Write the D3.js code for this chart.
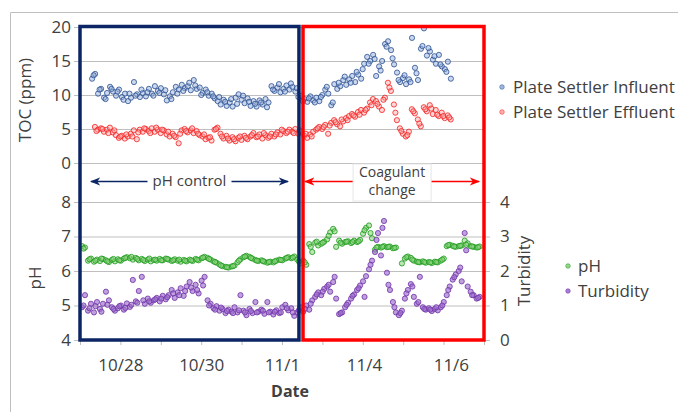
<!DOCTYPE html>
<html>
<head>
<meta charset="utf-8">
<script src="https://cdn.jsdelivr.net/npm/d3@7"></script>
<style>
  body { margin: 0; background: #fff; }
  text { font-family: "Open Sans", sans-serif; fill: #404040; }
</style>
</head>
<body>
<svg id="canvas" width="678" height="412"></svg>
<script>
// sample times are in "day ticks" along the date axis (0..10)
const sampleStep = 0.074;
const tocStart = 0.30;
const effStart = 0.37;
const phStart = 0.05;
// second, sparser set of readings sitting between the main ones
const extraStep = 0.148;
const extraOffset = 0.037;

const influent = [12.4,13.1,10.2,10.9,9.6,10.3,11.2,10.5,9.9,10.8,
  9.7,10.2,9.1,9.6,11.9,10.1,9.7,10.3,9.8,10.9,
  10.2,11.3,10.6,11.0,10.1,9.2,9.8,10.4,11.2,10.8,
  11.5,11.0,11.3,10.7,12.2,10.9,11.1,10.3,10.8,9.9,
  10.2,9.5,9.1,8.6,9.3,8.4,8.9,8.3,9.6,10.1,
  9.3,8.8,9.5,8.4,9.1,8.3,9.2,8.6,9.4,8.9,
  11.3,10.6,11.1,10.4,10.9,11.4,10.8,11.2,10.5,9.7,
  9.9,9.4,9.0,9.8,9.2,9.6,9.1,10.0,10.8,10.2,
  8.5,11.6,10.9,11.3,12.2,11.5,12.3,12.8,11.9,13.0,
  12.4,14.6,15.6,15.0,15.9,12.8,14.2,15.0,17.5,17.9,
  16.6,14.5,13.3,11.9,12.5,11.6,12.3,18.4,14.0,12.2,
  16.8,19.8,15.8,16.4,15.2,14.6,15.9,14.2,13.8,14.9,
  12.4];
const influentExtra = [12.9,10.8,9.4,10.9,10.5,9.3,10.2,9.9,10.8,10.4,
  9.9,10.3,10.7,9.4,10.2,10.6,11.8,11.4,10.0,10.4,
  9.8,9.7,9.0,9.4,8.7,9.9,9.0,8.7,8.9,8.2,
  10.8,11.6,10.5,11.7,11.0,9.1,9.5,8.9,9.7,11.2,
  8.9,11.8,12.7,11.8,13.4,13.8,14.6,15.3,13.6,17.1,
  15.4,12.2,12.9,11.9,13.2,17.2,16.9,15.7,14.5,13.4];

const effluent = [5.3,4.9,5.1,4.6,4.9,5.2,4.5,4.1,3.7,4.0,
  3.6,3.9,4.3,4.8,3.5,4.9,4.6,5.0,4.7,5.1,
  4.6,4.9,4.4,4.8,4.2,3.9,4.3,3.8,2.9,4.8,
  5.0,4.5,4.8,4.4,4.7,4.1,3.9,3.5,3.7,3.3,
  4.9,5.2,4.3,3.6,4.0,3.3,3.8,3.2,3.7,3.4,
  4.0,3.5,3.9,4.4,3.8,4.2,3.6,4.1,3.7,4.3,
  3.9,4.5,4.2,4.7,4.4,4.9,4.6,5.0,4.3,4.6,
  4.0,3.7,4.2,4.6,4.9,5.3,5.0,5.6,4.3,5.9,
  6.3,5.7,5.4,6.1,6.6,6.9,7.2,6.8,7.5,7.8,
  7.4,8.0,8.9,9.4,9.1,8.3,7.8,9.6,11.8,10.6,
  8.6,6.3,5.1,4.3,3.9,4.6,7.9,7.3,6.4,5.4,
  8.2,7.6,8.5,7.2,7.8,6.9,7.4,6.6,7.0,6.4];
const effluentExtra = [4.7,5.0,4.4,4.8,3.9,4.2,3.9,4.5,5.1,4.4,
  5.2,4.9,4.6,4.0,4.3,4.7,5.1,4.3,4.2,3.8,
  5.0,3.9,3.6,3.5,3.9,3.7,4.1,3.9,4.4,3.9,
  4.2,4.9,4.6,4.4,4.8,4.3,3.9,5.1,5.3,5.5,
  6.0,6.4,6.3,7.0,7.1,7.8,8.5,8.7,9.3,11.1,
  7.4,4.7,4.1,7.6,5.8,7.9,8.0,7.1,6.9,6.7];

const phValues = [6.72,6.68,6.30,6.36,6.27,6.33,6.29,6.35,6.31,6.26,
  6.32,6.28,6.34,6.30,6.36,6.40,6.37,6.33,6.38,6.31,
  6.35,6.29,6.33,6.28,6.32,6.30,6.35,6.31,6.36,6.33,
  6.29,6.34,6.30,6.27,6.32,6.28,6.33,6.29,6.35,6.31,
  6.37,6.41,6.38,6.33,6.28,6.24,6.19,6.14,6.12,6.10,
  6.13,6.16,6.25,6.34,6.40,6.44,6.41,6.36,6.32,6.29,
  6.31,6.27,6.24,6.27,6.25,6.30,6.33,6.31,6.36,6.40,
  6.37,6.42,6.33,6.22,6.30,6.18,6.78,6.55,6.82,6.74,
  6.79,6.85,6.92,7.12,7.22,6.70,6.88,6.79,6.84,6.86,
  6.81,6.88,6.84,6.90,7.08,7.25,7.32,6.95,6.62,6.70,
  6.68,6.72,6.69,6.71,6.66,6.68,null,6.22,6.36,6.42,
  6.38,6.30,6.27,6.25,6.28,6.24,6.26,6.23,6.27,6.25,
  6.30,6.36,6.72,6.76,6.73,6.70,6.72,6.74,6.88,6.80,
  6.72,6.70,6.68,6.71];
const phExtra = [6.65,6.34,6.30,6.36,6.28,6.35,6.31,6.38,6.41,6.35,
  6.32,6.36,6.33,6.31,6.35,6.31,6.33,6.30,6.31,6.33,
  6.39,6.35,6.26,6.16,6.11,6.14,6.30,6.42,6.38,6.30,
  6.29,6.26,6.28,6.32,6.38,6.39,6.28,6.25,6.70,6.85,
  6.82,7.02,7.15,6.82,6.85,6.84,6.86,7.18,7.10,6.68,
  6.70,6.70,6.67,null,6.40,6.33,6.26,6.26,6.25,6.26,
  6.33,6.75,6.71,6.73,6.76,6.71,6.69];

const turbidity = [0.95,1.30,0.85,1.05,0.80,1.10,0.90,1.05,1.40,1.15,
  0.95,0.85,0.92,1.00,0.88,1.06,0.96,1.74,1.12,1.42,
  1.83,1.05,1.20,1.08,1.15,1.22,1.12,1.28,1.18,1.30,
  1.45,1.22,1.38,1.50,1.28,1.55,1.68,1.42,1.60,1.35,
  1.72,1.83,1.15,1.05,0.92,0.98,0.85,0.90,0.78,0.88,
  0.82,0.95,0.80,1.30,0.85,0.72,0.90,0.78,1.10,0.82,
  0.88,0.76,1.10,0.82,0.74,0.86,0.78,0.95,1.02,0.86,
  0.92,0.70,0.80,0.95,0.82,1.00,0.88,1.15,1.25,1.38,
  1.30,1.48,1.55,1.40,1.68,1.20,0.75,0.80,0.95,1.08,
  1.20,1.32,1.45,1.58,1.70,1.85,2.05,2.30,2.55,3.10,
  2.45,3.45,1.95,1.45,1.10,0.80,0.72,0.85,1.20,1.45,
  1.62,1.25,1.05,1.83,0.95,0.88,0.92,0.84,0.90,0.86,
  0.95,1.10,1.30,1.55,1.75,1.90,2.00,1.70,3.10,1.55,
  1.40,1.30,1.20,1.25];
const turbidityExtra = [1.00,0.92,0.98,0.82,1.02,0.90,0.98,0.93,1.02,1.08,
  1.15,1.12,1.18,1.20,1.24,1.35,1.30,1.42,1.52,1.45,
  1.58,1.00,0.88,0.94,0.84,0.78,0.86,0.80,0.84,0.80,
  0.85,0.80,0.82,0.80,0.92,0.80,0.86,0.90,1.05,1.32,
  1.40,1.60,1.83,0.78,1.02,1.28,1.50,1.25,2.18,2.90,
  3.25,1.60,0.95,0.78,1.35,1.55,1.10,0.90,0.88,0.95,
  1.00,1.45,1.82,2.10,2.60,1.30,1.22];

const tocTicks = [0, 5, 10, 15, 20];
const phTicks = [4, 5, 6, 7, 8];
const turbTicks = [0, 1, 2, 3, 4];
const dateLabels = ['10/28', '10/30', '11/1', '11/4', '11/6'];
const dateLabelPos = [1, 3, 5, 7.03, 9.18];

const seriesTop = [
  { name: 'Plate Settler Influent', values: influent, extra: influentExtra, start: tocStart, stroke: '#2c5191', fill: 'rgba(150,175,222,0.5)' },
  { name: 'Plate Settler Effluent', values: effluent, extra: effluentExtra, start: effStart, stroke: '#f52020', fill: 'rgba(255,165,165,0.45)' }
];
const seriesBottom = [
  { name: 'pH', values: phValues, extra: phExtra, start: phStart, stroke: '#1c9a1c', fill: 'rgba(135,210,120,0.55)', axis: 'ph' },
  { name: 'Turbidity', values: turbidity, extra: turbidityExtra, start: phStart, stroke: '#7232a8', fill: 'rgba(155,110,205,0.65)', axis: 'turb' }
];

// the two test periods drawn as boxes across both panels
const phases = [
  { label: ['pH control'], start: 0, end: 5.42, color: '#0b2565', arrowFrom: 0.27, arrowTo: 5.15, boxW: 84, boxH: 20 },
  { label: ['Coagulant', 'change'], start: 5.52, end: 10, color: '#ff0000', arrowFrom: 5.57, arrowTo: 9.88, boxW: 78, boxH: 37 }
];

let svg = d3.select('#canvas');

let x = d3.scaleLinear().domain([0, 10]).range([80, 484]);
let yToc = d3.scaleLinear().domain([0, 20]).range([163, 27]);
let yPh = d3.scaleLinear().domain([4, 8]).range([340, 202]);
let yTurb = d3.scaleLinear().domain([0, 4]).range([340, 202]);

// outer chart frame (runs off the picture on the right and bottom)
svg.append('path')
   .attr('d', 'M10.5,430 V12.5 H700')
   .attr('fill', 'none')
   .attr('stroke', '#bfbfbf');

const styleAxis = (g, size) => {
  g.select('.domain').remove();
  g.selectAll('line').attr('stroke', '#bfbfbf');
  g.selectAll('text').style('font-size', size + 'px').attr('fill', '#404040').style('font-family', '"Open Sans", sans-serif');
};
const intFmt = d3.format('d');

// gridlines
svg.append('g')
   .attr('transform', 'translate(80,0)')
   .call(d3.axisLeft(yToc).tickValues(tocTicks).tickSize(-404).tickFormat(''))
   .call(g => styleAxis(g, 17));
svg.append('g')
   .attr('transform', 'translate(80,0)')
   .call(d3.axisLeft(yPh).tickValues(phTicks).tickSize(-404).tickFormat(''))
   .call(g => styleAxis(g, 17));

// left / right axes
svg.append('g')
   .attr('transform', 'translate(80,0)')
   .call(d3.axisLeft(yToc).tickValues(tocTicks).tickSize(6).tickPadding(3).tickFormat(intFmt))
   .call(g => styleAxis(g, 17));
svg.append('g')
   .attr('transform', 'translate(80,0)')
   .call(d3.axisLeft(yPh).tickValues(phTicks).tickSize(6).tickPadding(3).tickFormat(intFmt))
   .call(g => styleAxis(g, 17));
svg.append('g')
   .attr('transform', 'translate(484,0)')
   .call(d3.axisRight(yTurb).tickValues(turbTicks).tickSize(6).tickPadding(10).tickFormat(intFmt))
   .call(g => styleAxis(g, 17));

// date axis: day ticks, labels placed separately
svg.append('g')
   .attr('transform', 'translate(0,340)')
   .call(d3.axisBottom(x).tickValues(d3.range(0, 11)).tickSize(5).tickFormat(''))
   .call(g => styleAxis(g, 17));
svg.append('g')
   .attr('transform', 'translate(0,340)')
   .call(d3.axisBottom(x).tickValues(dateLabelPos).tickSize(0).tickPadding(19)
          .tickFormat((d, i) => dateLabels[i]))
   .call(g => styleAxis(g, 17));

// axis titles
svg.append('text')
   .attr('transform', 'translate(31,100) rotate(-90)')
   .attr('text-anchor', 'middle')
   .style('font-size', '17px')
   .text('TOC (ppm)');
svg.append('text')
   .attr('transform', 'translate(41,278) rotate(-90)')
   .attr('text-anchor', 'middle')
   .style('font-size', '17px')
   .text('pH');
svg.append('text')
   .attr('transform', 'translate(530,271) rotate(-90)')
   .attr('text-anchor', 'middle')
   .style('font-size', '17px')
   .text('Turbidity');
svg.append('text')
   .attr('x', 290)
   .attr('y', 397)
   .attr('text-anchor', 'middle')
   .style('font-size', '16px')
   .style('font-weight', 'bold')
   .attr('fill', '#262626')
   .text('Date');

// scatter points
const drawSeries = (s, yScale) => {
  let pts = s.values.map((v, i) => ({ t: s.start + i * sampleStep, v: v }))
    .concat(s.extra.map((v, i) => ({ t: s.start + extraOffset + i * extraStep, v: v })))
    .filter(d => d.v !== null);
  svg.append('g')
     .selectAll('circle')
     .data(pts)
     .enter()
     .append('circle')
     .attr('cx', d => x(d.t))
     .attr('cy', d => yScale(d.v))
     .attr('r', 2.6)
     .attr('fill', s.fill)
     .attr('stroke', s.stroke)
     .attr('stroke-width', 1)
     .attr('stroke-opacity', 0.8);
};

seriesTop.forEach(s => drawSeries(s, yToc));
seriesBottom.forEach(s => drawSeries(s, s.axis === 'ph' ? yPh : yTurb));

// period boxes + arrows
let defs = svg.append('defs');
phases.forEach((p, i) => {
  defs.append('marker')
      .attr('id', 'arrow' + i)
      .attr('viewBox', '0 0 10 10')
      .attr('refX', 9)
      .attr('refY', 5)
      .attr('markerWidth', 7)
      .attr('markerHeight', 7)
      .attr('orient', 'auto-start-reverse')
      .append('path')
      .attr('d', 'M0,1 L10,5 L0,9 L3,5 Z')
      .attr('fill', p.color);
});

phases.forEach((p, i) => {
  svg.append('rect')
     .attr('x', x(p.start))
     .attr('y', yToc(20) - 0.5)
     .attr('width', x(p.end) - x(p.start))
     .attr('height', yPh(4) - yToc(20) + 0.5)
     .attr('fill', 'none')
     .attr('stroke', p.color)
     .attr('stroke-width', 3.5);

  let mid = (x(p.arrowFrom) + x(p.arrowTo)) / 2;
  let ay = 181.5;
  svg.append('line')
     .attr('x1', x(p.arrowFrom)).attr('x2', x(p.arrowTo))
     .attr('y1', ay).attr('y2', ay)
     .attr('stroke', p.color)
     .attr('stroke-width', 1.5)
     .attr('marker-start', 'url(#arrow' + i + ')')
     .attr('marker-end', 'url(#arrow' + i + ')');

  let multi = p.label.length > 1;
  svg.append('rect')
     .attr('x', mid - p.boxW / 2)
     .attr('y', multi ? 164 : 172)
     .attr('width', p.boxW)
     .attr('height', p.boxH)
     .attr('fill', '#fff')
     .attr('stroke', multi ? '#e6e6e6' : 'none');

  p.label.forEach((line, j) => {
    svg.append('text')
       .attr('x', mid)
       .attr('y', (multi ? 177 : 186) + j * 18)
       .attr('text-anchor', 'middle')
       .style('font-size', multi ? '14px' : '15px')
       .text(line);
  });
});

// legends
const legendTop = svg.append('g');
legendTop.selectAll('circle')
   .data(seriesTop)
   .enter()
   .append('circle')
   .attr('cx', 502)
   .attr('cy', (d, i) => 87 + i * 25)
   .attr('r', 2.3)
   .attr('fill', d => d.fill.replace(/[\d.]+\)$/, '0.9)'))
   .attr('stroke', d => d.stroke)
   .attr('stroke-opacity', 0.5);
legendTop.selectAll('text')
   .data(seriesTop)
   .enter()
   .append('text')
   .attr('x', 513)
   .attr('y', (d, i) => 93 + i * 25)
   .style('font-size', '17px')
   .text(d => d.name);

const legendBottom = svg.append('g');
legendBottom.selectAll('circle')
   .data(seriesBottom)
   .enter()
   .append('circle')
   .attr('cx', 568)
   .attr('cy', (d, i) => 266 + i * 25)
   .attr('r', 2.3)
   .attr('fill', d => d.fill.replace(/[\d.]+\)$/, '0.9)'))
   .attr('stroke', d => d.stroke)
   .attr('stroke-opacity', 0.5);
legendBottom.selectAll('text')
   .data(seriesBottom)
   .enter()
   .append('text')
   .attr('x', 578)
   .attr('y', (d, i) => 272 + i * 25)
   .style('font-size', '17px')
   .text(d => d.name);
</script>
</body>
</html>
